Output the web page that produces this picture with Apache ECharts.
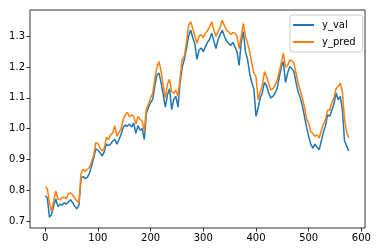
<!DOCTYPE html>
<html><head><meta charset="utf-8">
<script src="https://cdn.jsdelivr.net/npm/echarts@6/dist/echarts.min.js"></script>
<style>html,body{margin:0;padding:0;background:#fff}#c{width:378px;height:252px}</style>
</head><body><div id="c"></div>
<script>
var idx = [0,4,8,12,16,20,24,28,32,36,40,44,48,52,56,60,64,68,72,76,80,84,88,92,96,100,104,108,112,116,120,124,128,132,136,140,144,148,152,156,160,164,168,172,176,180,184,188,192,196,200,204,208,212,216,220,224,228,232,236,240,244,248,252,256,260,264,268,272,276,280,284,288,292,296,300,304,308,312,316,320,324,328,332,336,340,344,348,352,356,360,364,368,372,376,380,384,388,392,396,400,404,408,412,416,420,424,428,432,436,440,444,448,452,456,460,464,468,472,476,480,484,488,492,496,500,504,508,512,516,520,524,528,532,536,540,544,548,552,556,560,564,568,572,576];
var yVal = [0.783,0.775,0.713,0.722,0.750,0.772,0.748,0.755,0.752,0.760,0.755,0.762,0.770,0.760,0.748,0.740,0.752,0.840,0.845,0.838,0.842,0.856,0.880,0.905,0.935,0.930,0.922,0.912,0.925,0.950,0.945,0.950,0.960,0.966,0.950,0.965,0.982,1.005,1.012,1.008,1.015,1.005,1.018,0.985,1.010,0.995,1.000,0.965,1.050,1.070,1.085,1.095,1.140,1.175,1.180,1.148,1.110,1.070,1.110,1.130,1.062,1.095,1.105,1.070,1.150,1.200,1.225,1.260,1.300,1.320,1.295,1.275,1.225,1.255,1.262,1.250,1.266,1.280,1.290,1.310,1.285,1.260,1.290,1.305,1.320,1.300,1.285,1.277,1.270,1.280,1.266,1.250,1.205,1.280,1.315,1.250,1.225,1.180,1.150,1.130,1.040,1.067,1.100,1.116,1.150,1.140,1.116,1.100,1.105,1.115,1.130,1.165,1.200,1.218,1.150,1.180,1.202,1.195,1.185,1.150,1.120,1.100,1.075,1.040,1.005,0.975,0.950,0.937,0.950,0.940,0.932,0.960,0.990,1.010,1.045,1.040,1.060,1.080,1.116,1.094,1.105,1.061,0.960,0.945,0.928];
var yPred = [0.812,0.805,0.760,0.732,0.765,0.798,0.772,0.770,0.776,0.778,0.772,0.790,0.792,0.785,0.775,0.765,0.760,0.855,0.868,0.862,0.868,0.875,0.892,0.915,0.955,0.952,0.937,0.928,0.935,0.972,0.965,0.980,0.985,1.010,0.975,0.988,1.000,1.030,1.045,1.053,1.038,1.045,1.040,1.015,1.040,1.030,1.025,0.992,1.065,1.080,1.100,1.115,1.160,1.200,1.218,1.185,1.140,1.100,1.145,1.160,1.120,1.115,1.125,1.105,1.165,1.225,1.235,1.280,1.335,1.347,1.325,1.300,1.277,1.300,1.305,1.295,1.310,1.318,1.330,1.347,1.320,1.299,1.315,1.330,1.352,1.335,1.320,1.315,1.305,1.312,1.310,1.300,1.260,1.300,1.342,1.300,1.277,1.250,1.213,1.180,1.169,1.094,1.120,1.140,1.185,1.170,1.148,1.125,1.130,1.140,1.155,1.185,1.213,1.245,1.200,1.205,1.223,1.220,1.213,1.180,1.148,1.125,1.100,1.070,1.030,1.018,0.990,0.985,0.975,0.980,0.970,0.995,1.015,1.030,1.061,1.060,1.085,1.100,1.130,1.137,1.148,1.120,1.030,0.990,0.970];
var xTicks = [0,100,200,300,400,500,600];
var yTicks = [0.7,0.8,0.9,1.0,1.1,1.2,1.3];

function pairs(v){ return idx.map(function(x,i){ return [x, v[i]]; }); }
var chart = echarts.init(document.getElementById('c'), null, {renderer:'canvas'});
var font = 'DejaVu Sans';
chart.setOption({
  animation:false,
  grid:{left:30, top:10, right:13, bottom:24, show:true, borderColor:'#000', borderWidth:0.8, backgroundColor:'transparent'},
  xAxis:{type:'value', min:-28.9, max:606.9, splitLine:{show:false},
    axisLine:{show:false, onZero:false},
    axisTick:{show:true, length:3.5, lineStyle:{color:'#000',width:0.8}, customValues:xTicks},
    axisLabel:{customValues:xTicks, color:'#000', fontFamily:font, fontSize:10, margin:5}},
  yAxis:{type:'value', min:0.678, max:1.385, splitLine:{show:false},
    axisLine:{show:false, onZero:false},
    axisTick:{show:true, length:3.5, lineStyle:{color:'#000',width:0.8}, customValues:yTicks},
    axisLabel:{customValues:yTicks, color:'#000', fontFamily:font, fontSize:10, margin:5,
      formatter:function(v){return v.toFixed(1);}}},
  legend:{orient:'vertical', left:290, top:15, icon:'rect', itemWidth:21, itemHeight:2, itemGap:7,
    padding:[5,7,5,3], backgroundColor:'rgba(255,255,255,0.8)', borderColor:'#ccc', borderWidth:1, borderRadius:3,
    textStyle:{fontFamily:font, fontSize:10, color:'#000', padding:[0,0,0,3]},
    data:['y_val','y_pred']},
  series:[
    {name:'y_val', type:'line', data:pairs(yVal), showSymbol:false, symbol:'none', lineStyle:{color:'#1f77b4', width:1.5}, itemStyle:{color:'#1f77b4'}},
    {name:'y_pred', type:'line', data:pairs(yPred), showSymbol:false, symbol:'none', lineStyle:{color:'#ff7f0e', width:1.5}, itemStyle:{color:'#ff7f0e'}}
  ]
});
</script></body></html>
